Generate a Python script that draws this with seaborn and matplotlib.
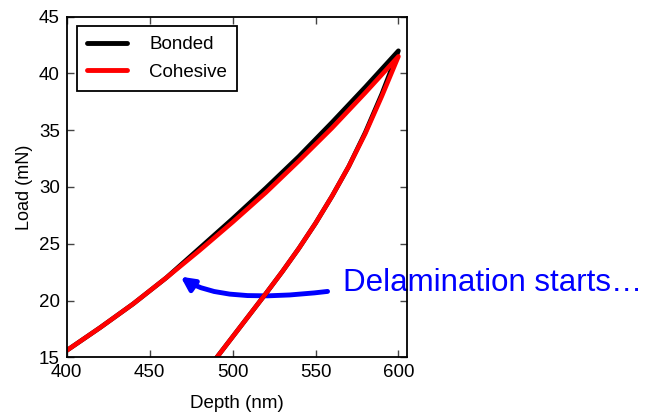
import matplotlib
matplotlib.use("Agg")
import matplotlib.pyplot as plt
import seaborn as sns
import pandas as pd

# ---- data ----
depth_load = [400, 420, 440, 460, 480, 500, 520, 540, 560, 580, 600]
bonded_load = [15.6, 17.6, 19.7, 22.0, 24.6, 27.2, 29.9, 32.7, 35.7, 38.8, 42.0]
cohesive_load = [15.6, 17.6, 19.7, 22.0, 24.4, 26.9, 29.5, 32.3, 35.2, 38.3, 41.5]

depth_unload = [590, 580, 570, 560, 550, 540, 530, 520, 510, 500, 490]
bonded_unload = [38.2, 34.8, 31.8, 29.2, 26.8, 24.6, 22.55, 20.6, 18.7, 16.8, 14.9]
cohesive_unload = [38.0, 34.7, 31.8, 29.2, 26.8, 24.6, 22.55, 20.6, 18.7, 16.8, 14.9]

series_names = ["Bonded", "Cohesive"]
series_colors = ["black", "red"]

xlim = (400, 605)
ylim = (15, 45)
xticks = [400, 450, 500, 550, 600]
yticks = [15, 20, 25, 30, 35, 40, 45]

annot_text = "Delamination starts\u2026"
annot_xy = (468.7, 22.1)
annot_text_xy = (566.4, 20.8)

# ---- build table ----
rows = []
for name, ld, ul in [("Bonded", bonded_load, bonded_unload),
                     ("Cohesive", cohesive_load, cohesive_unload)]:
    xs = depth_load + depth_unload
    ys = ld + ul
    for i, (x, y) in enumerate(zip(xs, ys)):
        rows.append({"series": name, "order": i, "Depth": x, "Load": y})
df = pd.DataFrame(rows)

sns.set_style("ticks")
plt.rcParams["font.family"] = ["Liberation Sans", "DejaVu Sans"]
plt.rcParams["text.color"] = "black"
plt.rcParams["axes.labelcolor"] = "black"

fig = plt.figure(figsize=(6.46, 4.13), dpi=100)
ax = fig.add_axes([0.1033, 0.1349, 0.5263, 0.8247])

for name, col in zip(series_names, series_colors):
    sub = df[df["series"] == name]
    sns.lineplot(data=sub, x="Depth", y="Load", sort=False, estimator=None,
                 color=col, linewidth=3.3, label=name, ax=ax, zorder=2)

ax.set_xlim(*xlim)
ax.set_ylim(*ylim)
ax.set_xticks(xticks)
ax.set_yticks(yticks)
ax.tick_params(direction="in", length=5, width=1, top=True, right=True,
               labelsize=13.5, pad=5, color="#444444", labelcolor="black")
for s in ax.spines.values():
    s.set_linewidth(1.3)
    s.set_color("black")
    s.set_zorder(2.5)

ax.set_xlabel("Depth (nm)", fontsize=13.5, labelpad=10)
ax.set_ylabel("Load (mN)", fontsize=13, labelpad=4)

leg = ax.legend(loc="upper left", bbox_to_anchor=(0.03, 0.973), borderaxespad=0,
                fontsize=13.5, handlelength=2.1, handletextpad=1.2,
                fancybox=False, framealpha=1, edgecolor="black",
                borderpad=0.55, labelspacing=0.55)
leg.get_frame().set_linewidth(1.3)
for t in leg.get_texts():
    t.set_color("black")
for h in leg.get_lines():
    h.set_linewidth(3.5)

ann = ax.annotate(annot_text, xy=annot_xy, xytext=annot_text_xy,
                  textcoords="data", ha="left", va="baseline",
                  fontsize=22.5, color="blue", annotation_clip=False,
                  arrowprops=dict(arrowstyle="-|>", color="blue", lw=3.5,
                                  mutation_scale=20, shrinkA=11, shrinkB=0,
                                  patchA=None, relpos=(0, 0.3),
                                  connectionstyle="angle3,angleA=8,angleB=-35"),
                  zorder=1.5)

fig.savefig("out.png", dpi=100)
